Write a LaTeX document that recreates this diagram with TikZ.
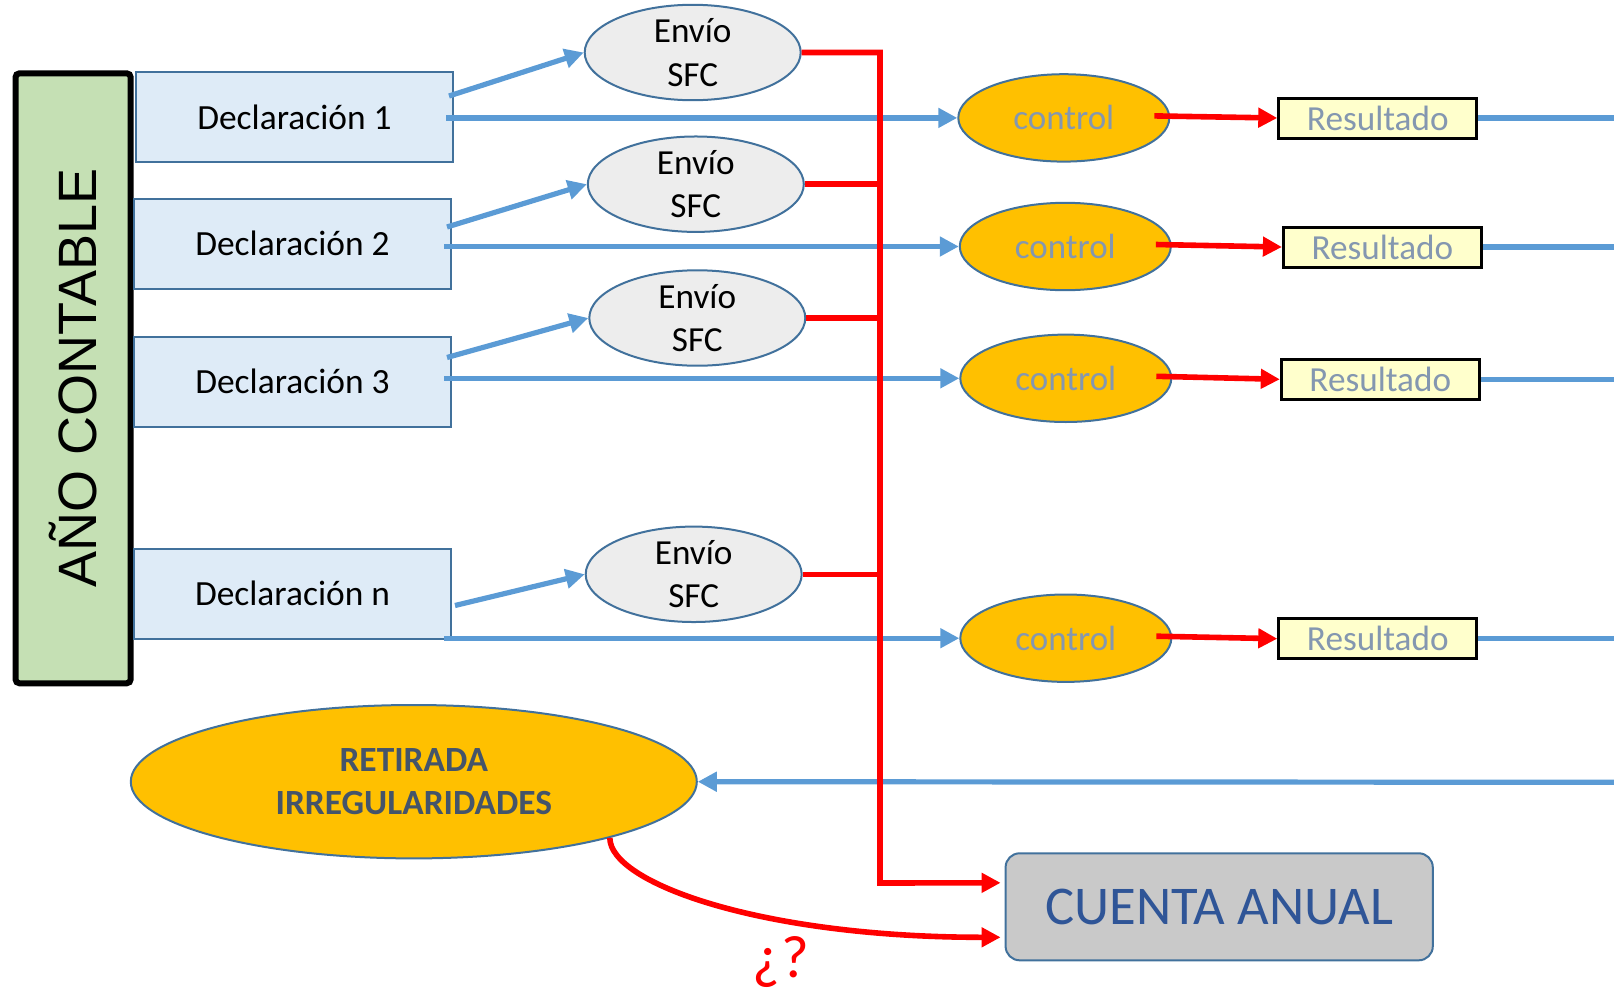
\documentclass[tikz,border=0pt]{standalone}
\usepackage{fontspec}
\setmainfont{Carlito}
\newfontfamily\anofont{Liberation Sans}
\usetikzlibrary{arrows.meta,shapes.geometric,calc}
\definecolor{bluel}{HTML}{5B9BD5}
\definecolor{edgec}{HTML}{41719C}
\definecolor{declfill}{HTML}{DEEBF7}
\definecolor{envfill}{HTML}{EDEDED}
\definecolor{anofill}{HTML}{C5E0B4}
\definecolor{ctrlfill}{HTML}{FFC000}
\definecolor{resfill}{HTML}{FFFFCC}
\definecolor{grtxt}{HTML}{8497B0}
\definecolor{rettxt}{HTML}{44546A}
\definecolor{cuentafill}{HTML}{C9C9C9}
\definecolor{cuentatxt}{HTML}{2F5597}
\definecolor{redl}{HTML}{FF0000}
\begin{document}
\begin{tikzpicture}[x=0.5pt,y=-0.5pt,
  declbox/.style={draw=edgec,line width=1pt,fill=declfill,minimum width=158.5pt,minimum height=45pt,inner sep=0pt,font=\fontsize{17.7}{21.6}\selectfont},
  envio/.style={ellipse,draw=edgec,line width=1pt,fill=envfill,minimum width=108pt,minimum height=45pt,inner sep=0pt,align=center,font=\fontsize{17.6}{21.6}\selectfont},
  ctrl/.style={ellipse,draw=edgec,line width=1pt,fill=ctrlfill,minimum width=105.5pt,minimum height=43.7pt,inner sep=0pt,text=grtxt,font=\fontsize{17.5}{21}\selectfont},
  res/.style={draw=black,line width=1.5pt,fill=resfill,minimum width=99pt,minimum height=20pt,inner sep=0pt,text=grtxt,font=\fontsize{17.6}{21}\selectfont},
  bluearrow/.style={draw=bluel,line width=2.6pt,-{Triangle[length=9.5pt,width=9.5pt]}},
  blueline/.style={draw=bluel,line width=2.6pt},
  redarrow/.style={draw=redl,line width=2.8pt,-{Triangle[length=9.5pt,width=9.5pt]}},
  redline/.style={draw=redl,line width=2.8pt},
]
\useasboundingbox (0,0) rectangle (1614,991);

% year box
\node[draw=black,line width=3pt,fill=anofill,rounded corners=2pt,rotate=90,
      minimum width=305pt,minimum height=57.6pt,inner sep=0pt,
      font=\anofont\fontsize{27}{30}\selectfont] (ano) at (73.1,378.3) {AÑO CONTABLE};

% declarations
\node[declbox] (d1) at (294.5,117) {Declaración 1};
\node[declbox] (d2) at (292.5,243.5) {Declaración 2};
\node[declbox] (d3) at (292.5,381.5) {Declaración 3};
\node[declbox] (dn) at (292.5,593.5) {Declaración n};

% envio
\node[envio] (e1) at (692.7,52.5) {Envío\\SFC};
\node[envio] (e2) at (695.8,184.2) {Envío\\SFC};
\node[envio] (e3) at (697.3,318) {Envío\\SFC};
\node[envio] (en) at (693.7,574.3) {Envío\\SFC};

% control
\node[ctrl] (c1) at (1063.8,117.9) {control};
\node[ctrl] (c2) at (1065.3,246.5) {control};
\node[ctrl] (c3) at (1065.8,378.3) {control};
\node[ctrl] (cn) at (1065.8,638.2) {control};

% resultado
\node[res] (r1) at (1377.8,118) {Resultado};
\node[res] (r2) at (1382.4,247) {Resultado};
\node[res] (r3) at (1380.3,379.3) {Resultado};
\node[res] (rn) at (1377.8,638.7) {Resultado};

% retirada
\node[ellipse,draw=edgec,line width=1pt,fill=ctrlfill,minimum width=283pt,minimum height=76.7pt,
      inner sep=0pt,align=center,text=rettxt,font=\bfseries\fontsize{17.7}{21.6}\selectfont]
      (ret) at (413.8,781.7) {RETIRADA\\IRREGULARIDADES};

% cuenta anual
\node[draw=edgec,line width=1pt,fill=cuentafill,rounded corners=7pt,minimum width=213.6pt,
      minimum height=53.5pt,inner sep=0pt,text=cuentatxt,font=\fontsize{27.3}{30}\selectfont]
      (cuenta) at (1219.2,906.8) {CUENTA ANUAL};

\node[text=redl,font=\fontsize{30}{36}\selectfont,inner sep=0pt] (q) at (781,962) {¿\kern1pt?};

\coordinate (tb) at (880,883);
\coordinate (redge) at (1614,0);
\coordinate (rb) at (1614,782.3);

% blue connectors
\foreach \i in {1,2,3,n}{
  \draw[bluearrow] ([xshift=-4pt]d\i.east |- c\i.west) -- (c\i.west);
  \draw[blueline] (r\i.east) -- (r\i.east -| redge);
}
\draw[bluearrow] ($(d1.north east)+(-5,25)$) -- (e1.west);
\draw[bluearrow] ($(d2.north east)+(-5,29.5)$) -- (e2.west);
\draw[bluearrow] ($(d3.north east)+(-5,22)$) -- (e3.west);
\draw[bluearrow] ($(dn.north east)+(3,58)$) -- (en.west);
\draw[bluearrow] (rb) -- (ret.east);

% red connectors
\draw[redarrow] (e1.east) -| (tb) -- ($(cuenta.west)+(-4,-24)$);
\draw[redline] (e2.east) -- (e2.east -| tb);
\draw[redline] (e3.east) -- (e3.east -| tb);
\draw[redline] (en.east) -- (en.east -| tb);
\foreach \i in {1,2,3,n}{
  \draw[redarrow] ([xshift=-8pt,yshift=1pt]c\i.east) -- (r\i.west);
}
\draw[redarrow] (ret.-16) .. controls +(0,45) and +(-240,0) .. ($(cuenta.west)+(-4,30.5)$);
\end{tikzpicture}
\end{document}
